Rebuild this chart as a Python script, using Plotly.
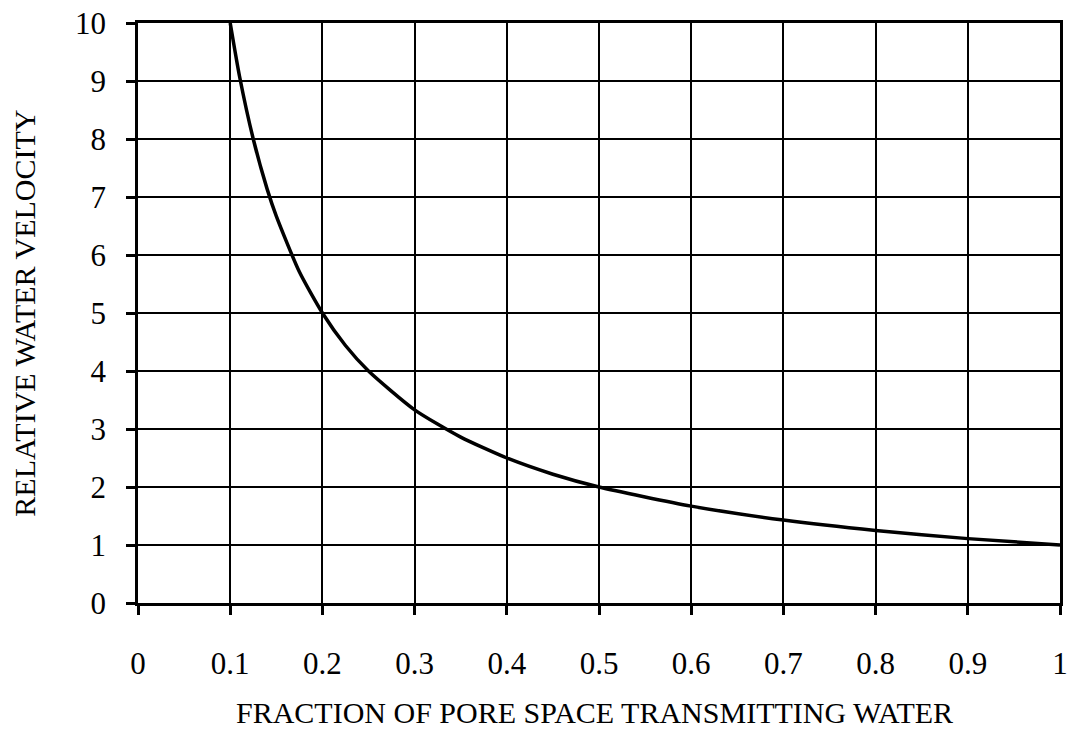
import plotly.graph_objects as go

# Fraction of pore space that transmits water, and the resulting relative velocity
fraction = [0.10, 0.11, 0.125, 0.14, 0.15, 0.175, 0.20, 0.225, 0.25, 0.30, 0.35, 0.40,
            0.45, 0.50, 0.60, 0.70, 0.80, 0.90, 1.00]
velocity = [10.0, 9.09, 8.0, 7.14, 6.67, 5.71, 5.0, 4.44, 4.0, 3.33, 2.86, 2.5,
            2.22, 2.0, 1.67, 1.43, 1.25, 1.11, 1.0]

x_ticks = [0, 0.1, 0.2, 0.3, 0.4, 0.5, 0.6, 0.7, 0.8, 0.9, 1]
x_tick_text = ["0", "0.1", "0.2", "0.3", "0.4", "0.5", "0.6", "0.7", "0.8", "0.9", "1"]
y_ticks = list(range(0, 11))
y_tick_text = [str(v) for v in y_ticks]

x_title = "FRACTION OF PORE SPACE TRANSMITTING WATER"
y_title = "RELATIVE WATER VELOCITY"

FONT = "Liberation Serif"

fig = go.Figure()
fig.add_trace(go.Scatter(
    x=fraction, y=velocity, mode="lines",
    line=dict(color="black", width=3.5, shape="spline", smoothing=0.6),
    hoverinfo="skip", showlegend=False,
))

fig.update_layout(
    width=1074, height=744,
    margin=dict(l=138, r=6, t=20, b=141),
    font=dict(family=FONT, size=30, color="black"),
    paper_bgcolor="white", plot_bgcolor="white",
    xaxis=dict(
        range=[0, 1], tickmode="array", tickvals=x_ticks, ticktext=x_tick_text,
        showgrid=True, gridcolor="black", gridwidth=1.5,
        showline=True, mirror=True, linecolor="black", linewidth=2.5,
        ticks="outside", ticklen=9, tickwidth=3, tickcolor="black",
        ticklabelstandoff=22, ticklabeloverflow="allow", zeroline=False,
        tickfont=dict(family=FONT, size=31),
    ),
    yaxis=dict(
        range=[0, 10], tickmode="array", tickvals=y_ticks, ticktext=y_tick_text,
        showgrid=True, gridcolor="black", gridwidth=1.5,
        showline=True, mirror=True, linecolor="black", linewidth=2.5,
        ticks="outside", ticklen=9, tickwidth=3, tickcolor="black",
        ticklabelstandoff=14, ticklabeloverflow="allow", zeroline=False,
        tickfont=dict(family=FONT, size=31),
    ),
    annotations=[
        dict(text=x_title, xref="paper", yref="paper", x=0.495, y=-0.189,
             xanchor="center", yanchor="middle", showarrow=False,
             font=dict(family=FONT, size=30)),
        dict(text=y_title, xref="paper", yref="paper", x=-0.124, y=0.5,
             xanchor="center", yanchor="middle", showarrow=False, textangle=-90,
             font=dict(family=FONT, size=30)),
    ],
)

fig.write_html("out.html")
